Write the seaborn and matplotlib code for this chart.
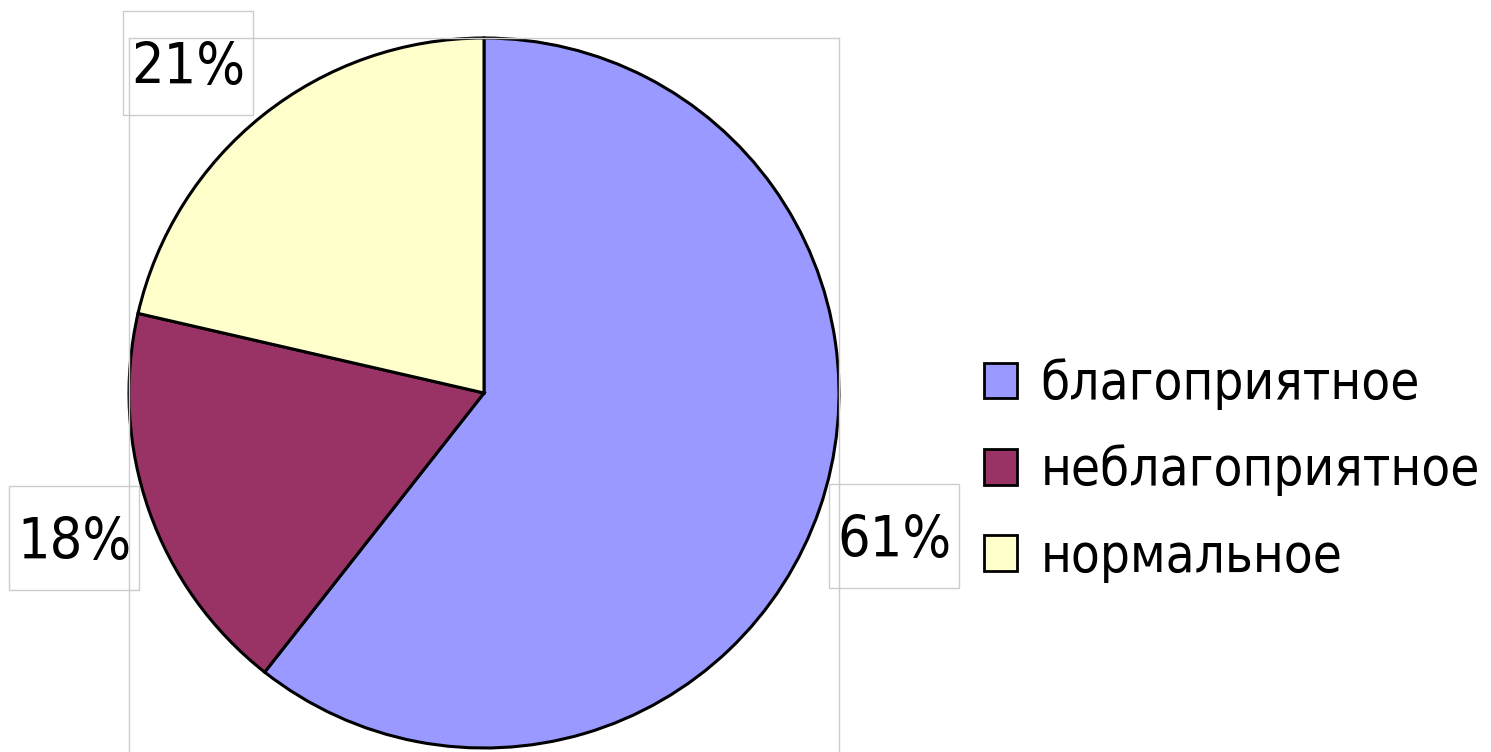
"""
Круговая диаграмма: распределение состояний (благоприятное / неблагоприятное / нормальное)
"""

import matplotlib
matplotlib.use('Agg')
import matplotlib.pyplot as plt
import seaborn as sns
import numpy as np
from matplotlib.patches import Patch, Rectangle
from matplotlib.transforms import IdentityTransform
from matplotlib.font_manager import FontProperties

# данные
categories = ['благоприятное', 'неблагоприятное', 'нормальное']
shares = [60.6, 18.0, 21.4]
colors = ['#9999ff', '#993366', '#ffffcc']

sns.set_theme(style='white')
plt.rcParams['font.family'] = ['DejaVu Sans']

W, H = 1491, 752
fig = plt.figure(figsize=(W / 100, H / 100), dpi=100)

# область графика: x 129..839, y 38..760 (px сверху)
ax = fig.add_axes([129 / W, 1 - 760 / H, 710 / W, 722 / H])
palette = sns.color_palette(colors)
wedges, _ = ax.pie(shares, colors=palette, startangle=90, counterclock=False,
                   frame=True,
                   wedgeprops=dict(edgecolor='black', linewidth=2.2))
ax.set_xlim(-1, 1)
ax.set_ylim(1 - 722 / 355, 1)
ax.set_xticks([])
ax.set_yticks([])
for sp in ax.spines.values():
    sp.set_visible(True)
    sp.set_color('#cccccc')
    sp.set_linewidth(1)

# подписи с процентами в рамках (рамка снаружи круга у середины сектора)
box_w, box_h, gap = 130, 104, 10
label_font = FontProperties(family='DejaVu Sans', stretch='condensed', size=41)
for w, val in zip(wedges, shares):
    ang = np.deg2rad((w.theta1 + w.theta2) / 2)
    px, py = ax.transData.transform((np.cos(ang), np.sin(ang)))
    x0 = px - gap - box_w if np.cos(ang) < 0 else px + gap
    if np.sin(ang) > 0.5:
        y0 = py
    else:
        y0 = py - 27 - box_h / 2
    fig.add_artist(Rectangle((x0, y0), box_w, box_h, fill=False,
                             edgecolor='#cccccc', linewidth=1,
                             transform=IdentityTransform()))
    fig.text((x0 + box_w / 2) / W, (y0 + box_h / 2 - 5) / H, f'{round(val)}%',
             ha='center', va='center', fontproperties=label_font, color='black')

# легенда
handles = [Patch(facecolor=c, edgecolor='black', linewidth=2) for c in palette]
leg = fig.legend(handles, categories, loc='upper left',
                 bbox_to_anchor=(984 / W, 1 - 358 / H),
                 frameon=False, borderpad=0, borderaxespad=0,
                 prop=FontProperties(family='DejaVu Sans', stretch='condensed', size=38),
                 handlelength=0.63, handleheight=0.66, handletextpad=0.44,
                 labelspacing=0.65)
for t in leg.get_texts():
    t.set_color('black')

plt.savefig('out.png', dpi=100)
plt.close()
